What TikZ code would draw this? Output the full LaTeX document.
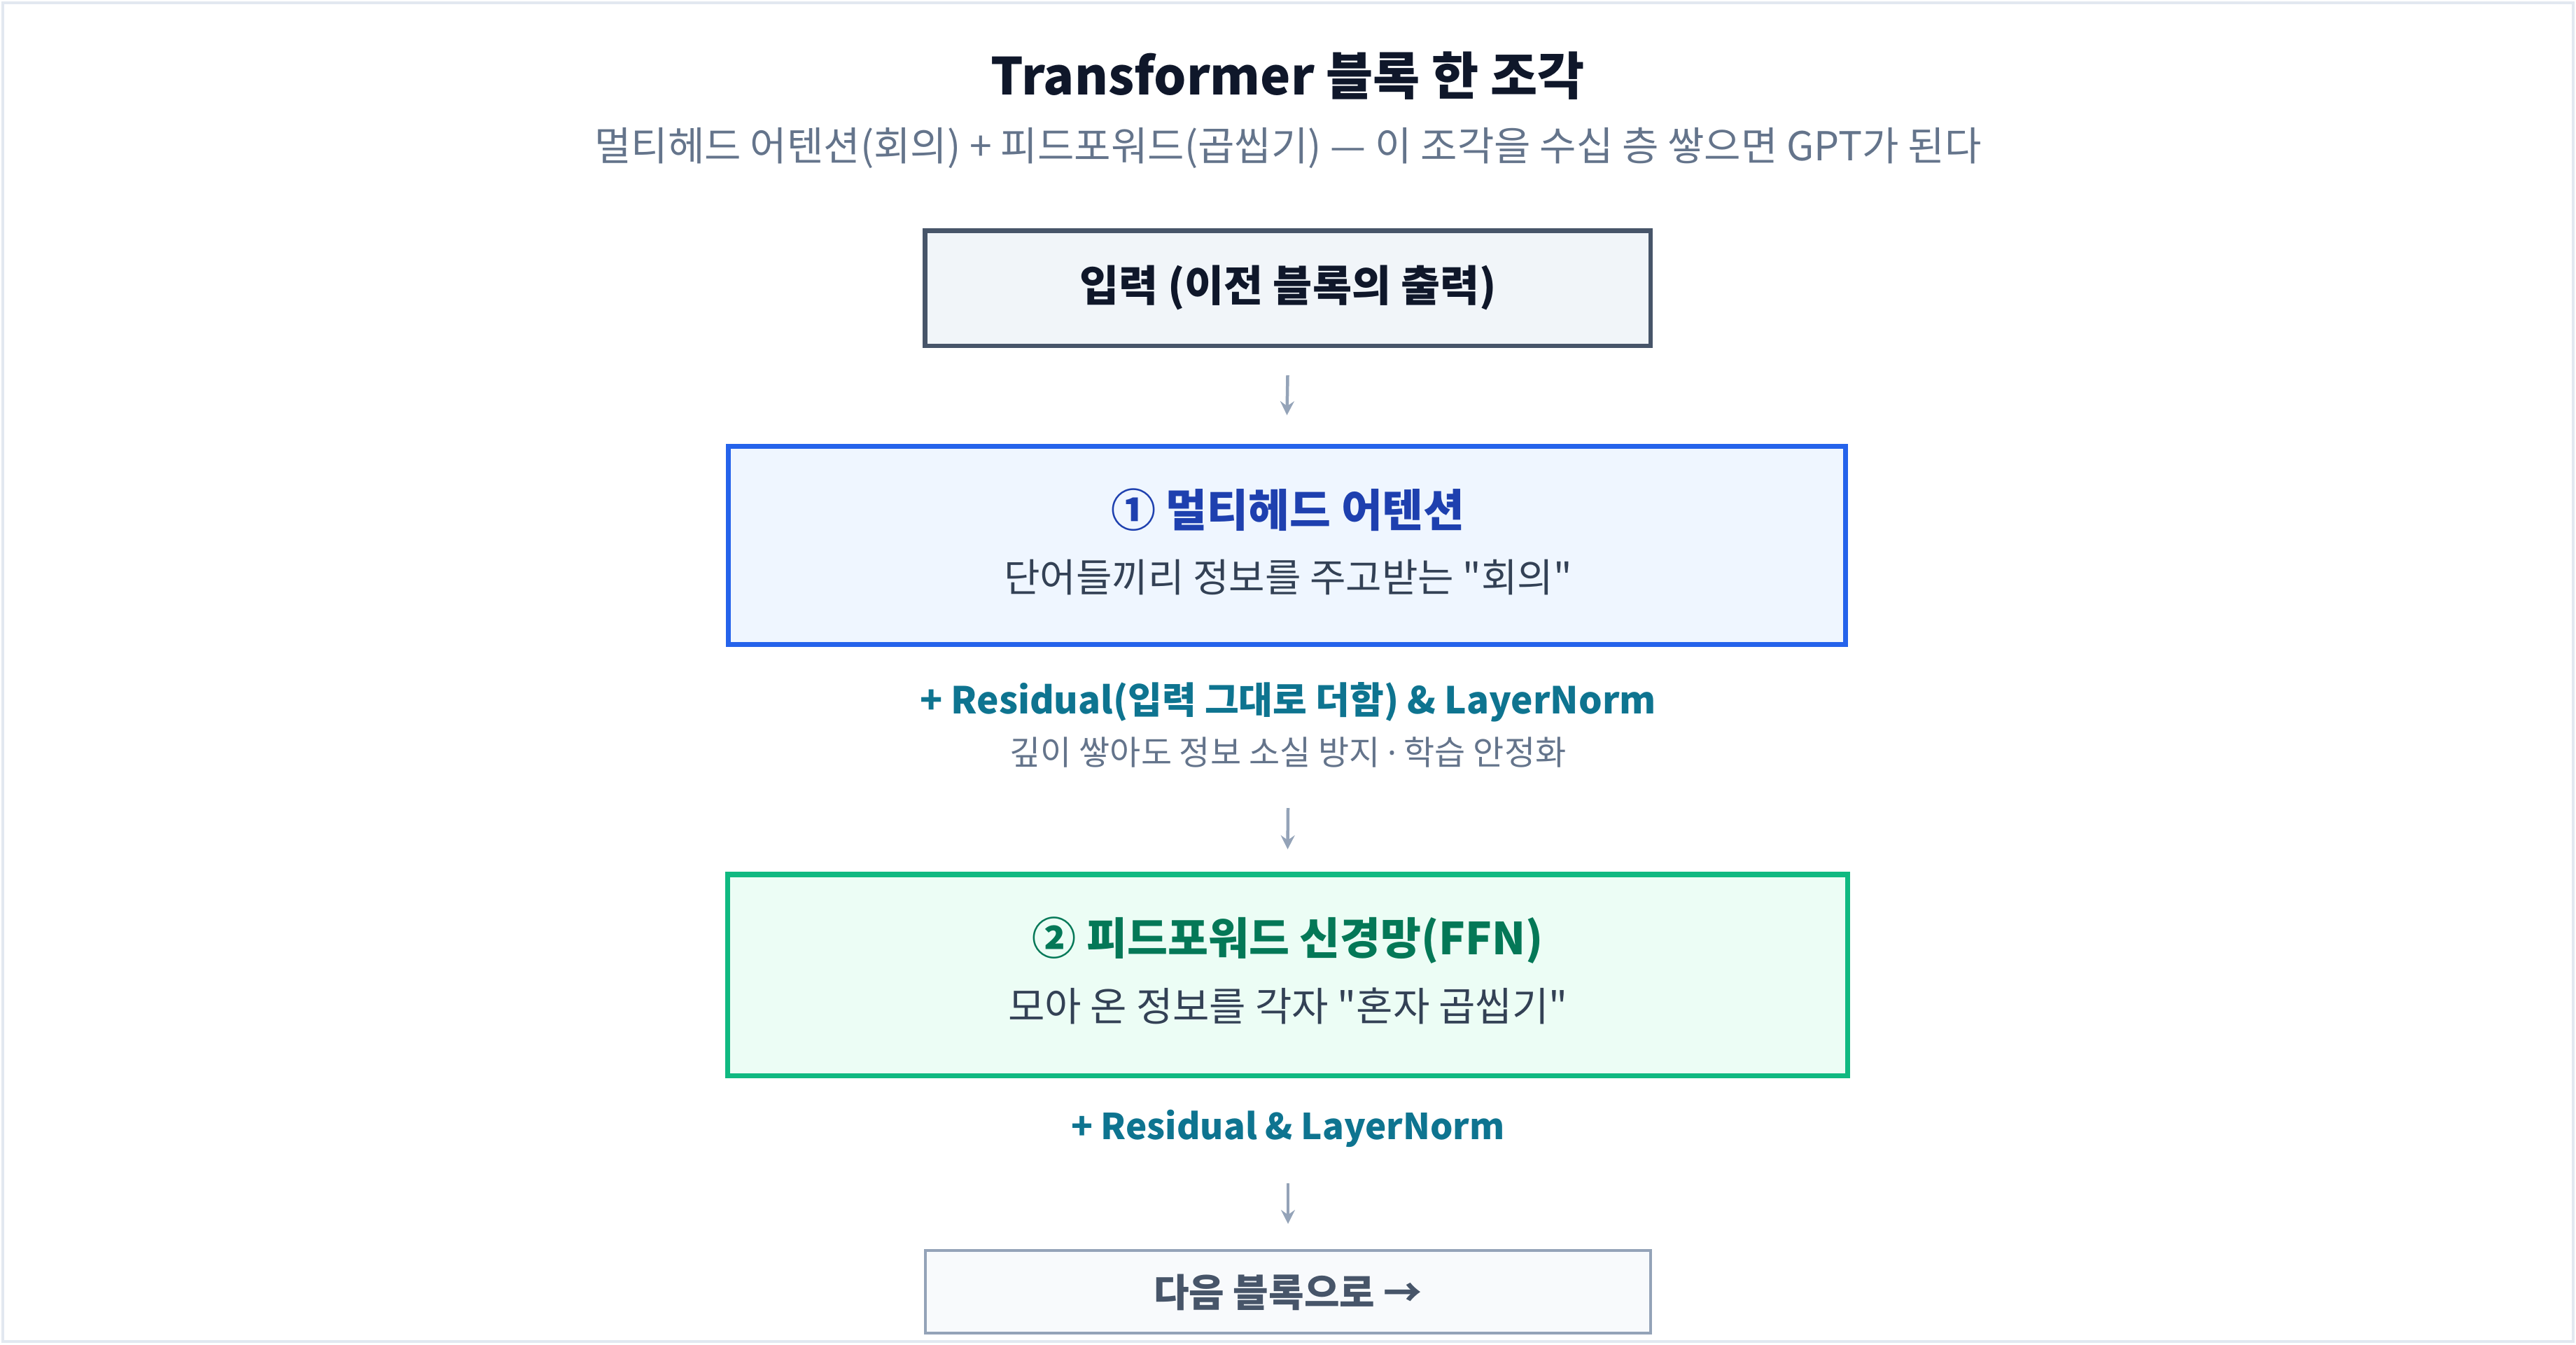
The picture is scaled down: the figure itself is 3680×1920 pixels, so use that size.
\documentclass[tikz,border=0pt]{standalone}
\usepackage{fontspec}
\setmainfont{Noto Sans CJK KR}[Ligatures=TeXOff]
\newfontfamily\latinsans{Noto Sans}
\usetikzlibrary{arrows.meta}
\definecolor{frame}{HTML}{E2E8F0}
\definecolor{ink}{HTML}{0F172A}
\definecolor{muted}{HTML}{64748B}
\definecolor{slate}{HTML}{475569}
\definecolor{slatefill}{HTML}{F1F5F9}
\definecolor{arrowc}{HTML}{94A3B8}
\definecolor{blueb}{HTML}{2563EB}
\definecolor{bluef}{HTML}{EFF6FF}
\definecolor{bluet}{HTML}{1E40AF}
\definecolor{body}{HTML}{334155}
\definecolor{teal}{HTML}{0E7490}
\definecolor{greenb}{HTML}{10B981}
\definecolor{greenf}{HTML}{ECFDF5}
\definecolor{greent}{HTML}{047857}
\definecolor{nextf}{HTML}{F8FAFC}
\tikzset{
  fs/.style={font=\fontsize{#1}{#1}\selectfont},
  fsb/.style={font=\fontsize{#1}{#1}\selectfont\bfseries},
  box/.style={draw, rectangle, inner sep=0pt},
  arr/.style={draw=arrowc, line width=4.5pt, -{Stealth[length=20pt,width=20pt,inset=7pt]}},
}
\begin{document}
\begin{tikzpicture}[x=1pt,y=-1pt]
\useasboundingbox (0,0) rectangle (3680,1920);
\draw[frame, line width=4pt] (4,4) rectangle (3676,1916);

\node[fsb=73, text=ink] (title) at (1840,108) {Transformer 블록 한 조각};
\node[fs=57, text=muted] (subtitle) at (1840,211) {멀티헤드 어텐션(회의) + 피드포워드(곱씹기) — 이 조각을 수십 층 쌓으면 GPT가 된다};

\node[box, draw=slate, fill=slatefill, line width=6.5pt, minimum width=1036.5, minimum height=164.5] (in) at (1839.5,411.5) {};
\node[fsb=61, text=ink] (intext) at (1840,411) {입력 (이전 블록의 출력)};

\node[box, draw=blueb, fill=bluef, line width=7pt, minimum width=1596, minimum height=283] (mha) at (1838.5,779) {};
\node[fsb=64, text=bluet] (mhat) at (1840,728) {① 멀티헤드 어텐션};
\node[fs=56, text=body] (mhas) at (1840,825) {단어들끼리 정보를 주고받는 "회의"};

\node[fsb=53, text=teal] (res1) at (1840,1003) {+ Residual(입력 그대로 더함) \& LayerNorm};
\node[fs=48, text=muted] (res1s) at (1840,1074) {깊이 쌓아도 정보 소실 방지 {\latinsans ·} 학습 안정화};

\node[box, draw=greenb, fill=greenf, line width=7.5pt, minimum width=1600, minimum height=287.5] (ffn) at (1839.5,1392.5) {};
\node[fsb=63, text=greent] (ffnt) at (1840,1343) {② 피드포워드 신경망(FFN)};
\node[fs=57, text=body] (ffns) at (1840,1437) {모아 온 정보를 각자 "혼자 곱씹기"};

\node[fsb=51, text=teal] (res2) at (1840,1612) {+ Residual \& LayerNorm};

\node[box, draw=arrowc, fill=nextf, line width=4pt, minimum width=1036, minimum height=118] (next) at (1840,1845) {};
\node[fsb=55, text=slate] (nextt) at (1840,1846) {다음 블록으로 →};

\draw[arr] ([yshift=-39]in.south) -- ([yshift=41]mha.north);
\draw[arr] ([yshift=-80]res1s.center) -- ([yshift=32]ffn.north);
\draw[arr] ([yshift=-78]res2.center) -- ([yshift=36]next.north);
\end{tikzpicture}
\end{document}
